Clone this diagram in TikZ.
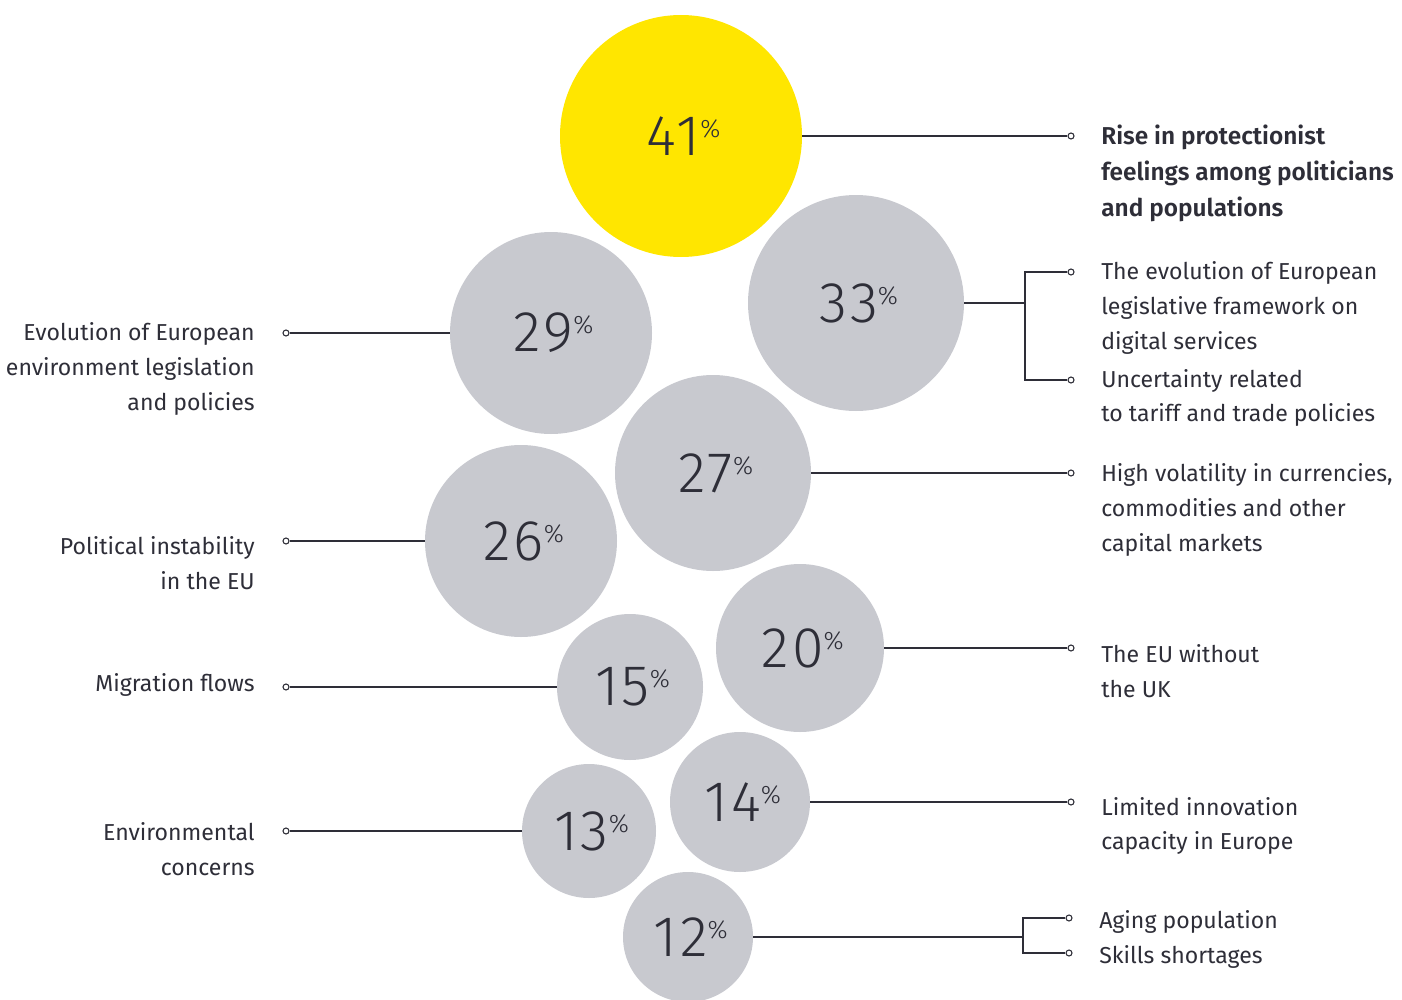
\documentclass[tikz,border=0pt]{standalone}
\usepackage{fontspec}
\setmainfont{Fira Sans}
\newfontfamily\numfont{Fira Sans}[UprightFont=* Light, LetterSpace=5]
\newfontfamily\boldfont{Fira Sans}[UprightFont=* SemiBold]
\definecolor{eyyellow}{HTML}{FFE600}
\definecolor{bubgray}{HTML}{C8C9CF}
\definecolor{ink}{HTML}{2E2E38}
\newcommand{\pct}[1]{\hspace{4pt}#1\raisebox{13.5pt}{\fontsize{19}{19}\selectfont\%}}
\tikzset{
  bub/.style={circle, fill=bubgray, inner sep=0pt, text=ink,
    font=\numfont\fontsize{43}{43}\selectfont},
  dot/.style={circle, draw=ink, fill=white, line width=0.8pt, inner sep=0pt, minimum size=4.5pt},
  conn/.style={draw=ink, line width=0.9pt},
  lbl/.style={text=ink, inner sep=0pt, font=\fontsize{17.3}{26}\selectfont},
  rlbl/.style={lbl, anchor=west, align=left},
  llbl/.style={lbl, anchor=east, align=right},
}
\begin{document}
\begin{tikzpicture}[x=0.75pt,y=-0.75pt]
\useasboundingbox (0,0) rectangle (1402,999);
% bubbles
\node[bub, fill=eyyellow, minimum size=181.5pt] (c41) at (681,136) {\pct{41}};
\node[bub, minimum size=162pt] (c33) at (856,303) {\pct{33}};
\node[bub, minimum size=151.5pt] (c29) at (551,333) {\pct{29}};
\node[bub, minimum size=147pt] (c27) at (713,473) {\pct{27}};
\node[bub, minimum size=144pt] (c26) at (521,541) {\pct{26}};
\node[bub, minimum size=126pt] (c20) at (800,648) {\pct{20}};
\node[bub, minimum size=109.5pt] (c15) at (630,687) {\pct{15}};
\node[bub, minimum size=105pt] (c14) at (740,802) {\pct{14}};
\node[bub, minimum size=100.5pt] (c13) at (589,831) {\pct{13}};
\node[bub, minimum size=97.5pt] (c12) at (688,937) {\pct{12}};
% markers
\node[dot] (m41) at (1071,136) {};
\node[dot] (m33a) at (1071,272) {};
\node[dot] (m33b) at (1071,380) {};
\node[dot] (m29) at (286,333) {};
\node[dot] (m27) at (1071,473) {};
\node[dot] (m26) at (286,541) {};
\node[dot] (m20) at (1071,648) {};
\node[dot] (m15) at (286,687) {};
\node[dot] (m14) at (1071,802) {};
\node[dot] (m13) at (286,831) {};
\node[dot] (m12a) at (1069,918) {};
\node[dot] (m12b) at (1069,953) {};
\coordinate (j33) at (1025,303);
\coordinate (j12) at (1023,937);
% connectors
\draw[conn] (c41.east) -- (m41.west);
\draw[conn] (c33.east) -- (j33);
\draw[conn] (m33a.west) -| (j33) |- (m33b.west);
\draw[conn] (m29.east) -- (c29.west);
\draw[conn] (c27.east) -- (m27.west);
\draw[conn] (m26.east) -- (c26.west);
\draw[conn] (c20.east) -- (m20.west);
\draw[conn] (m15.east) -- (c15.west);
\draw[conn] (c14.east) -- (m14.west);
\draw[conn] (m13.east) -- (c13.west);
\draw[conn] (c12.east) -- (j12);
\draw[conn] (m12a.west) -| (j12) |- (m12b.west);
% labels right
\node[rlbl, font=\boldfont\fontsize{18.3}{27}\selectfont] (t41) at (1101,173) {Rise in protectionist\\feelings among politicians\\and populations};
\node[rlbl] (t33a) at (1101,308) {The evolution of European\\legislative framework on\\digital services};
\node[rlbl] (t33b) at (1101,398) {Uncertainty related\\to tariff and trade policies};
\node[rlbl] (t27) at (1101,510) {High volatility in currencies,\\commodities and other\\capital markets};
\node[rlbl] (t20) at (1101,671) {The EU without\\the UK};
\node[rlbl] (t14) at (1101,826) {Limited innovation\\capacity in Europe};
\node[rlbl] (t12a) at (1099,922) {Aging population};
\node[rlbl] (t12b) at (1099,957) {Skills shortages};
% labels left
\node[llbl] (t29) at (255,369) {Evolution of European\\environment legislation\\and policies};
\node[llbl] (t26) at (255,563) {Political instability\\in the EU};
\node[llbl] (t15) at (255,685) {Migration flows};
\node[llbl] (t13) at (255,849) {Environmental\\concerns};
\end{tikzpicture}
\end{document}
